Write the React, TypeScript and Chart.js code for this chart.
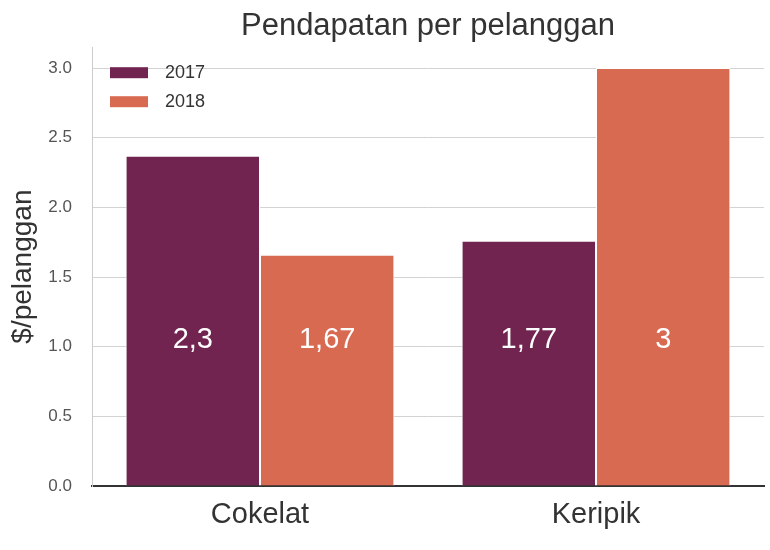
import React, { useEffect, useRef } from 'react';
import { Chart, registerables } from 'chart.js';

Chart.register(...registerables);
Chart.defaults.font.family = '"Liberation Sans", Arial, sans-serif';

const categories = ['Cokelat', 'Keripik'];
const seriesNames = ['2017', '2018'];
const values2017 = [2.37, 1.76];
const values2018 = [1.66, 3.0];
const labels2017 = ['2,3', '1,77'];
const labels2018 = ['1,67', '3'];
const yTicks = [0, 0.5, 1.0, 1.5, 2.0, 2.5, 3.0];

const colors = ['#70244f', '#d96a52'];

// white value text written inside each bar
const barLabels = {
  id: 'barLabels',
  afterDatasetsDraw(chart: any, _args: any, opts: any) {
    const { ctx } = chart;
    const yPos = chart.scales.y.getPixelForValue(opts.level);
    const texts = [labels2017, labels2018];
    ctx.save();
    ctx.font = '29px "Liberation Sans", Arial, sans-serif';
    ctx.fillStyle = '#ffffff';
    ctx.textAlign = 'center';
    ctx.textBaseline = 'middle';
    chart.data.datasets.forEach((_ds: any, i: number) => {
      chart.getDatasetMeta(i).data.forEach((bar: any, j: number) => {
        ctx.fillText(texts[i][j], bar.x, yPos);
      });
    });
    ctx.restore();
  },
};

// legend drawn inside the top-left corner of the plot
const insideLegend = {
  id: 'insideLegend',
  afterDraw(chart: any) {
    const { ctx, chartArea } = chart;
    ctx.save();
    ctx.font = '18px "Liberation Sans", Arial, sans-serif';
    ctx.textBaseline = 'middle';
    chart.data.datasets.forEach((ds: any, i: number) => {
      const top = chartArea.top + 20 + i * 29;
      ctx.fillStyle = ds.backgroundColor;
      ctx.fillRect(chartArea.left + 18, top, 38, 11);
      ctx.fillStyle = '#333333';
      ctx.fillText(ds.label, chartArea.left + 73, top + 6);
    });
    ctx.restore();
  },
};

const App: React.FC = () => {
  const chartRef = useRef<HTMLCanvasElement>(null);

  useEffect(() => {
    if (!chartRef.current) return;
    const chart = new Chart(chartRef.current, {
      type: 'bar',
      data: {
        labels: categories,
        datasets: [
          {
            label: seriesNames[0],
            data: values2017,
            backgroundColor: colors[0],
            borderColor: '#ffffff',
            borderWidth: 1,
          },
          {
            label: seriesNames[1],
            data: values2018,
            backgroundColor: colors[1],
            borderColor: '#ffffff',
            borderWidth: 1,
          },
        ],
      },
      options: {
        animation: false,
        responsive: true,
        maintainAspectRatio: false,
        layout: { padding: { left: 0, right: 6, top: 0, bottom: 0 } },
        datasets: { bar: { categoryPercentage: 0.8, barPercentage: 1.0 } },
        scales: {
          x: {
            grid: { display: false, drawTicks: false },
            border: { color: '#333333', width: 2 },
            ticks: { color: '#333333', font: { size: 29 }, padding: 12 },
            afterFit(scale: any) {
              scale.height = 64;
            },
          },
          y: {
            min: 0,
            max: 3.15,
            afterBuildTicks(scale: any) {
              scale.ticks = yTicks.map((v) => ({ value: v }));
            },
            grid: { color: '#d3d3d3', drawTicks: false },
            border: { color: '#cccccc', width: 1 },
            ticks: {
              color: '#555555',
              font: { size: 17 },
              padding: 20,
              callback: (v: any) => Number(v).toFixed(1),
            },
            title: {
              display: true,
              text: '$/pelanggan',
              color: '#333333',
              font: { size: 28 },
              padding: { top: 6, bottom: 0 },
            },
            afterFit(scale: any) {
              scale.width = 92;
            },
          },
        },
        plugins: {
          legend: { display: false },
          tooltip: { enabled: false },
          title: {
            display: true,
            text: 'Pendapatan per pelanggan',
            color: '#333333',
            font: { size: 31, weight: 'normal' },
            padding: { top: 8, bottom: 2 },
            fullSize: false,
          },
          barLabels: { level: 1.05 },
        } as any,
      },
      plugins: [barLabels, insideLegend],
    });
    return () => {
      chart.destroy();
    };
  }, []);

  return (
    <div style={{ position: 'absolute', left: 0, top: 0, width: '770px', height: '550px' }}>
      <canvas ref={chartRef} />
    </div>
  );
};

export default App;
